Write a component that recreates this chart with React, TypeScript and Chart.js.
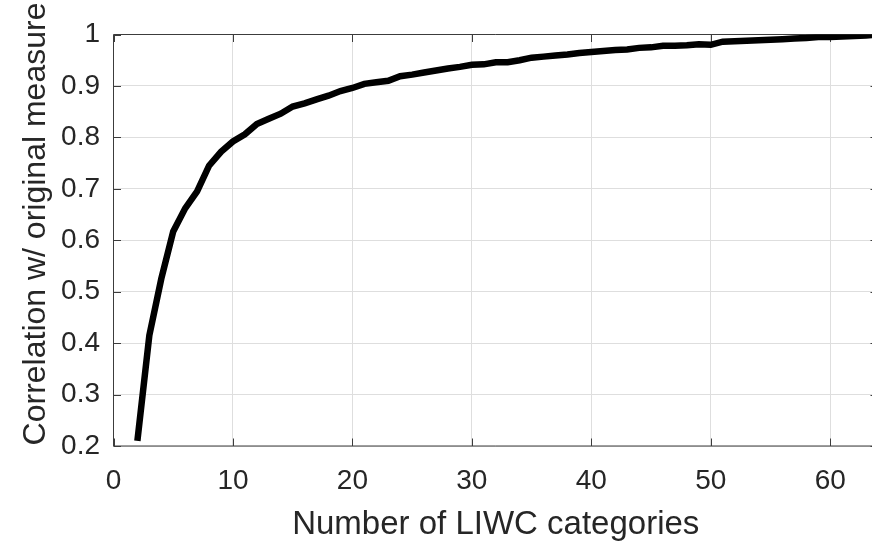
import React, { useEffect, useRef } from "react";
import { Chart, registerables } from "chart.js";

Chart.register(...registerables);

const categoryCounts = [
  2, 3, 4, 5, 6, 7, 8, 9, 10, 11, 12, 13, 14, 15, 16, 17, 18, 19, 20, 21,
  22, 23, 24, 25, 26, 27, 28, 29, 30, 31, 32, 33, 34, 35, 36, 37, 38, 39, 40,
  41, 42, 43, 44, 45, 46, 47, 48, 49, 50, 51, 52, 53, 54, 55, 56, 57, 58, 59,
  60, 61, 62, 63, 64,
];

const correlation = [
  0.21, 0.415, 0.525, 0.617, 0.662, 0.695, 0.745, 0.772, 0.792, 0.806, 0.826,
  0.836, 0.846, 0.86, 0.866, 0.874, 0.881, 0.89, 0.896, 0.904, 0.907, 0.91,
  0.919, 0.922, 0.926, 0.93, 0.934, 0.937, 0.941, 0.942, 0.946, 0.946, 0.95,
  0.955, 0.957, 0.959, 0.961, 0.964, 0.966, 0.968, 0.97, 0.971, 0.974, 0.975,
  0.978, 0.978, 0.979, 0.981, 0.98, 0.986, 0.987, 0.988, 0.989, 0.99, 0.991,
  0.992, 0.993, 0.995, 0.995, 0.996, 0.997, 0.998, 1.0,
];

const xAxisLabel = "Number of LIWC categories";
const yAxisLabel = "Correlation w/ original measure";

const TEXT = "#262626";
const AXIS = "#3c3c3c";
const FONT = "'Liberation Sans', Arial, Helvetica, sans-serif";

const framePlugin = {
  id: "matlabFrame",
  beforeDatasetsDraw(chart: any) {
    const { ctx, chartArea } = chart;
    const { left, right, top, bottom } = chartArea;
    const xs = chart.scales.x;
    const ys = chart.scales.y;
    const tl = 7.5;
    ctx.save();
    ctx.strokeStyle = AXIS;
    ctx.lineWidth = 1;
    ctx.beginPath();
    ctx.rect(left, top, right - left, bottom - top);
    xs.ticks.forEach((t: any) => {
      const px = Math.round(xs.getPixelForValue(t.value)) + 0.5;
      ctx.moveTo(px, bottom);
      ctx.lineTo(px, bottom - tl);
      ctx.moveTo(px, top);
      ctx.lineTo(px, top + tl);
    });
    ys.ticks.forEach((t: any) => {
      const py = Math.round(ys.getPixelForValue(t.value)) + 0.5;
      ctx.moveTo(left, py);
      ctx.lineTo(left + tl, py);
      ctx.moveTo(right, py);
      ctx.lineTo(right - tl, py);
    });
    ctx.stroke();
    ctx.restore();
  },
  afterDraw(chart: any) {
    const { ctx, chartArea } = chart;
    ctx.save();
    ctx.fillStyle = TEXT;
    ctx.textAlign = "center";
    ctx.textBaseline = "alphabetic";
    ctx.font = `33px ${FONT}`;
    ctx.fillText(xAxisLabel, (chartArea.left + chartArea.right) / 2, 533.5);
    ctx.font = `32px ${FONT}`;
    ctx.translate(45, 224);
    ctx.rotate(-Math.PI / 2);
    ctx.fillText(yAxisLabel, 0, 0);
    ctx.restore();
  },
};

export default function App() {
  const canvasRef = useRef<HTMLCanvasElement | null>(null);

  useEffect(() => {
    if (!canvasRef.current) return;
    const chart = new Chart(canvasRef.current, {
      type: "line",
      data: {
        datasets: [
          {
            data: categoryCounts.map((x, i) => ({ x, y: correlation[i] })),
            borderColor: "#000000",
            borderWidth: 6.5,
            pointRadius: 0,
            tension: 0,
            fill: false,
          },
        ],
      },
      options: {
        animation: false,
        responsive: false,
        devicePixelRatio: 1,
        layout: { padding: { left: 0, top: 34.5, right: 2, bottom: 0 } },
        plugins: { legend: { display: false }, tooltip: { enabled: false } },
        scales: {
          x: {
            type: "linear",
            min: 0,
            max: 64,
            border: { display: false },
            grid: { color: "#dedede", lineWidth: 1, drawTicks: false },
            ticks: {
              stepSize: 10,
              includeBounds: false,
              padding: 18,
              color: TEXT,
              font: { family: FONT, size: 28 },
              maxRotation: 0,
            },
            afterFit: (scale: any) => {
              scale.height = 96;
            },
          },
          y: {
            type: "linear",
            min: 0.2,
            max: 1,
            border: { display: false },
            grid: { color: "#dedede", lineWidth: 1, drawTicks: false },
            ticks: {
              stepSize: 0.1,
              padding: 13.5,
              color: TEXT,
              font: { family: FONT, size: 28 },
              callback: (v: any) => {
                const n = Math.round(Number(v) * 10) / 10;
                return n === 1 ? "1" : n.toFixed(1);
              },
            },
            afterFit: (scale: any) => {
              scale.width = 113.5;
            },
          },
        },
      },
      plugins: [framePlugin],
    });
    return () => chart.destroy();
  }, []);

  return (
    <div
      style={{
        position: "fixed",
        left: 0,
        top: 0,
        width: 872,
        height: 542,
        overflow: "hidden",
        background: "#ffffff",
      }}
    >
      <canvas ref={canvasRef} width={880} height={542} style={{ display: "block" }} />
    </div>
  );
}
